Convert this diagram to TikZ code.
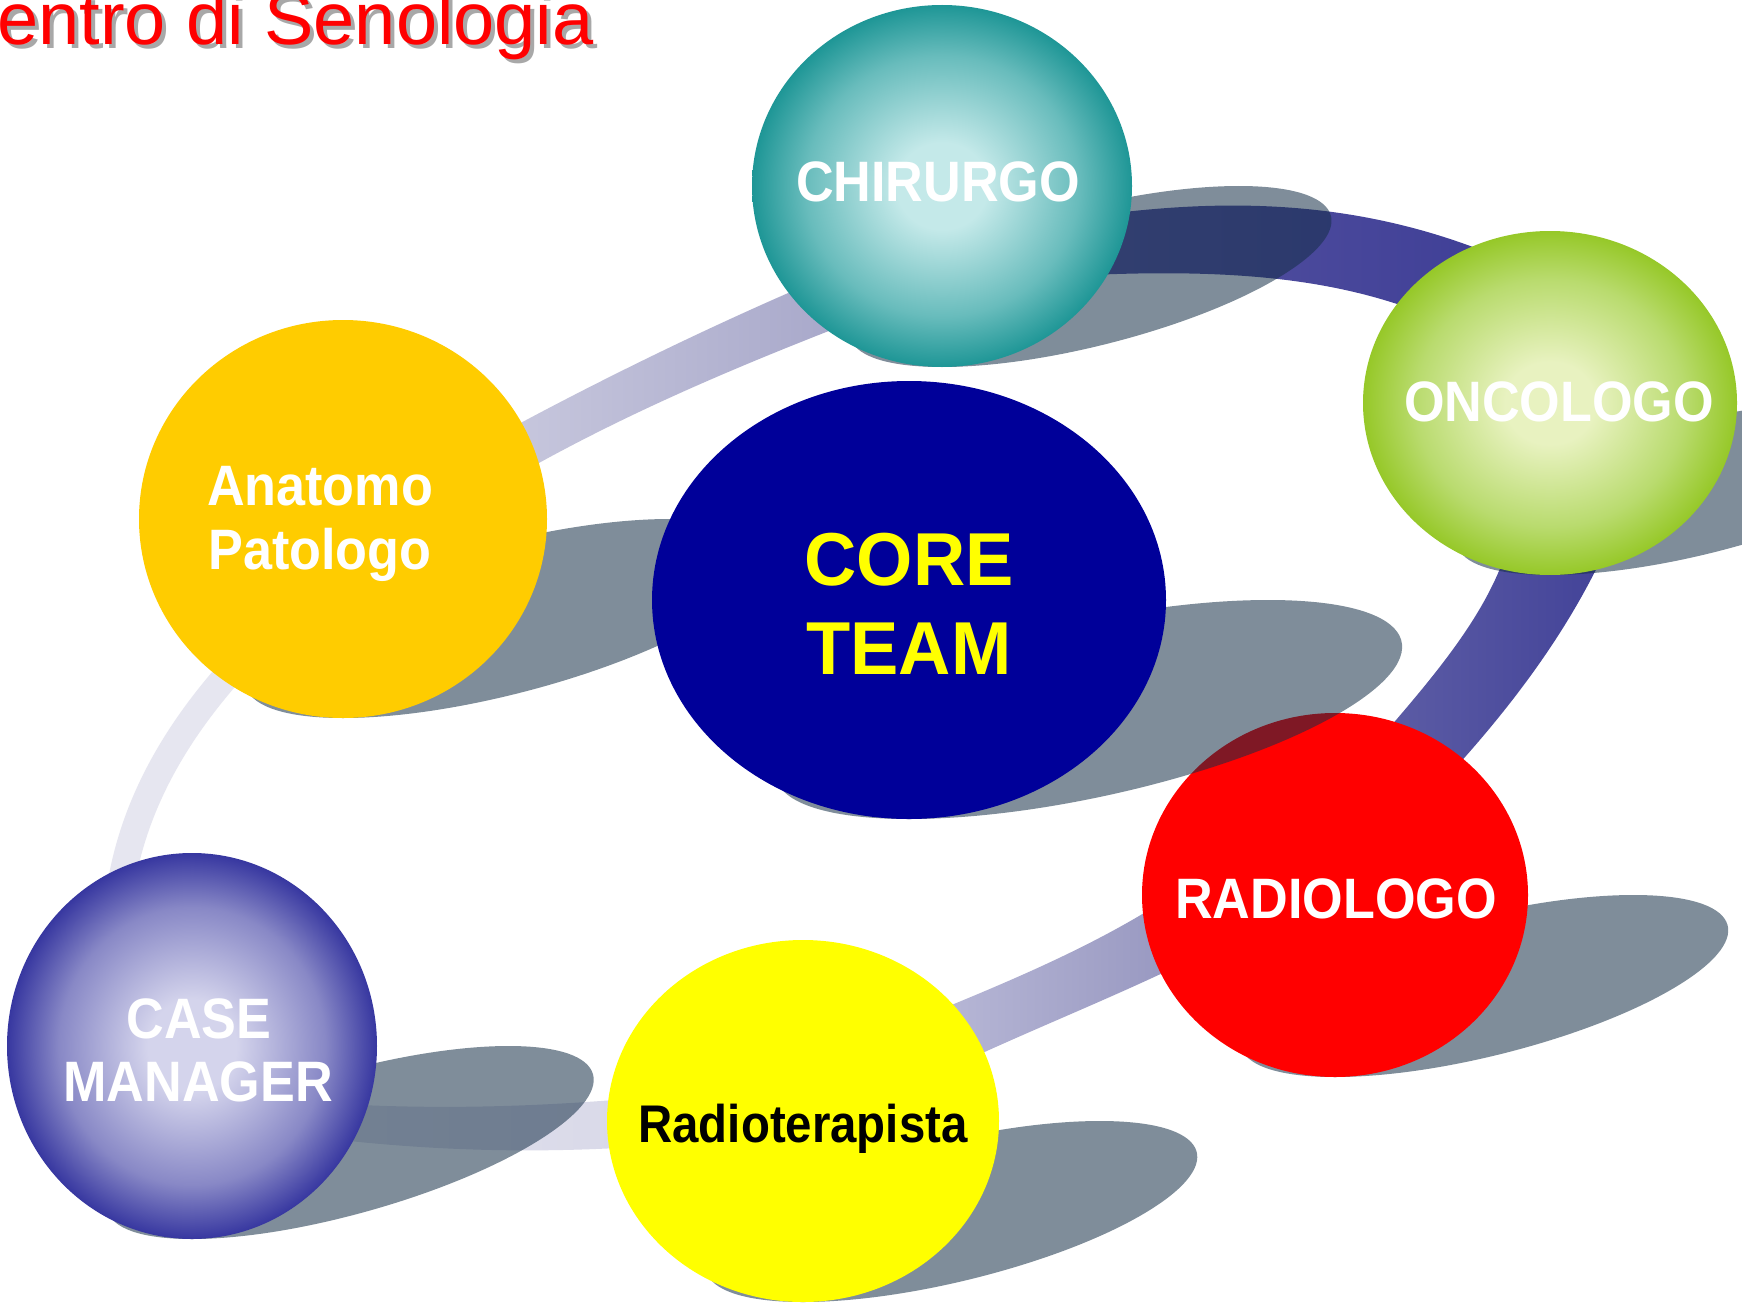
\documentclass[tikz,border=0pt]{standalone}
\usepackage{fontspec}
\setmainfont{Liberation Sans}
\usepackage{graphicx}
\usetikzlibrary{shapes.geometric}

\definecolor{shadowcol}{RGB}{20,46,70}
\definecolor{anatcol}{RGB}{255,204,0}
\definecolor{corecol}{RGB}{0,0,153}
\definecolor{radicol}{RGB}{255,0,0}
\definecolor{rtercol}{RGB}{255,255,0}
\definecolor{tealhi}{RGB}{196,233,233}
\definecolor{tealmid}{RGB}{104,188,188}
\definecolor{tealedge}{RGB}{30,150,150}
\definecolor{greenhi}{RGB}{232,242,192}
\definecolor{greenmid}{RGB}{185,219,110}
\definecolor{greenedge}{RGB}{150,200,40}
\definecolor{bluehi}{RGB}{212,212,236}
\definecolor{bluemid}{RGB}{136,136,198}
\definecolor{blueedge}{RGB}{55,55,160}
\definecolor{ribA}{RGB}{230,230,240}
\definecolor{ribBl}{RGB}{202,202,223}
\definecolor{ribBr}{RGB}{165,165,200}
\definecolor{ribCl}{RGB}{86,83,161}
\definecolor{ribCr}{RGB}{62,62,150}
\definecolor{ribDl}{RGB}{94,94,166}
\definecolor{ribDr}{RGB}{66,66,152}
\definecolor{ribEl}{RGB}{186,186,216}
\definecolor{ribEr}{RGB}{148,148,190}
\definecolor{ribFl}{RGB}{226,226,237}
\definecolor{ribFr}{RGB}{216,216,232}
\definecolor{titleshadow}{RGB}{168,168,168}

\pgfdeclareradialshading{tealball}{\pgfpoint{0bp}{0bp}}{color(0bp)=(tealhi); color(6bp)=(tealhi); color(18bp)=(tealmid); color(25bp)=(tealedge); color(50bp)=(tealedge)}
\pgfdeclareradialshading{greenball}{\pgfpoint{0bp}{0bp}}{color(0bp)=(greenhi); color(6bp)=(greenhi); color(18bp)=(greenmid); color(25bp)=(greenedge); color(50bp)=(greenedge)}
\pgfdeclareradialshading{blueball}{\pgfpoint{0bp}{0bp}}{color(0bp)=(bluehi); color(6bp)=(bluehi); color(18bp)=(bluemid); color(25bp)=(blueedge); color(50bp)=(blueedge)}

\tikzset{
  ball/.style={ellipse, draw=none, inner sep=0pt},
  shadowfill/.style={fill=shadowcol, fill opacity=0.54},
  lbl/.style={anchor=base, inner sep=0pt, text=white, font=\bfseries\fontsize{57}{60}\selectfont},
  corelbl/.style={anchor=base, inner sep=0pt, text=rtercol, font=\bfseries\fontsize{75}{80}\selectfont},
  rterlbl/.style={anchor=base, inner sep=0pt, text=black, font=\bfseries\fontsize{53}{58}\selectfont},
}
\newcommand{\narrowtxt}[2]{\scalebox{#1}[1]{#2}}
% text with a soft grey drop shadow, in one box
\newcommand{\dropshadowed}[1]{\makebox[0pt][l]{\hspace{4pt}\raisebox{-4pt}{\textcolor{titleshadow}{#1}}}#1}
% perspective shadow of an ellipse: centre (#1,#2), radii #3,#4
\newcommand{\ballshadow}[4]{%
  \begin{scope}[shift={(#1,#2+#4)}, cm={1,0,0.82,0.5,(0,0)}]
    \fill[shadowfill] (0,-#4) ellipse [x radius=#3, y radius=#4];
  \end{scope}}

\begin{document}
\begin{tikzpicture}[x=1pt,y=-1pt]
\useasboundingbox (0,0) rectangle (1742,1308);
\fill[white] (0,0) rectangle (1742,1308);
\begin{scope}
\clip (0,0) rectangle (1742,1308);

% ---- ribbon ----
\draw[line width=27pt, ribA] (118,905) .. controls (130,800) and (185,715) .. (262,638);
\shade[left color=ribBl, right color=ribBr]
  (480,445) .. controls (580,390) and (700,330) .. (830,275) -- (870,315)
  .. controls (740,365) and (620,415) .. (500,485) -- cycle;
\shade[left color=ribCl, right color=ribCr]
  (1100,215) .. controls (1250,195) and (1380,205) .. (1510,262) -- (1440,320)
  .. controls (1350,282) and (1250,268) .. (1090,275) -- cycle;
\shade[left color=ribDl, right color=ribDr]
  (1510,540) .. controls (1490,610) and (1440,670) .. (1370,750) -- (1435,790)
  .. controls (1510,710) and (1570,630) .. (1610,540) -- cycle;
\shade[left color=ribEl, right color=ribEr]
  (920,1018) .. controls (1000,985) and (1100,945) .. (1180,890) -- (1200,955)
  .. controls (1120,995) and (1030,1030) .. (950,1068) -- cycle;
\shade[left color=ribFl, right color=ribFr]
  (340,1104) .. controls (450,1110) and (550,1106) .. (650,1097) -- (650,1146)
  .. controls (550,1153) and (450,1152) .. (340,1140) -- cycle;

% ---- balls with shadows ----
\ballshadow{192}{1046}{185}{193}
\node[ball, shade, shading=blueball, minimum width=370pt, minimum height=386pt] (case) at (192,1046) {};

\ballshadow{343}{519}{204}{199}
\node[ball, fill=anatcol, minimum width=408pt, minimum height=398pt] (anat) at (343,519) {};

\ballshadow{803}{1121}{196}{181}
\node[ball, fill=rtercol, minimum width=392pt, minimum height=362pt] (rter) at (803,1121) {};

\ballshadow{1335}{895}{193}{182}
\node[ball, fill=radicol, minimum width=386pt, minimum height=364pt] (radi) at (1335,895) {};

\ballshadow{909}{600}{257}{219}
\node[ball, fill=corecol, minimum width=514pt, minimum height=438pt] (core) at (909,600) {};

\ballshadow{942}{186}{190}{181}
\node[ball, shade, shading=tealball, minimum width=380pt, minimum height=362pt] (chir) at (942,186) {};

\ballshadow{1550}{403}{187}{172}
\node[ball, shade, shading=greenball, minimum width=374pt, minimum height=344pt] (onco) at (1550,403) {};

% ---- labels ----
\node[lbl] (tchir) at (938,202) {\narrowtxt{0.915}{CHIRURGO}};
\node[lbl] (tonco) at (1559,421) {\narrowtxt{0.915}{ONCOLOGO}};
\node[lbl] (tradi) at (1336,918) {\narrowtxt{0.915}{RADIOLOGO}};
\node[lbl] (tcase1) at (199,1038) {\narrowtxt{0.915}{CASE}};
\node[lbl] (tcase2) at (198,1101) {\narrowtxt{0.915}{MANAGER}};
\node[lbl] (tanat1) at (320,505) {\narrowtxt{0.915}{Anatomo}};
\node[lbl] (tanat2) at (320,569) {\narrowtxt{0.915}{Patologo}};
\node[corelbl] (tcore1) at (909,585) {\narrowtxt{0.965}{CORE}};
\node[corelbl] (tcore2) at (909,674) {\narrowtxt{0.965}{TEAM}};
\node[rterlbl] (trter) at (803,1142) {\narrowtxt{0.894}{Radioterapista}};

% ---- title ----
\node[anchor=base west, inner sep=0pt, text=radicol, font=\fontsize{74}{80}\selectfont] (title) at (-3,45) {\dropshadowed{entro di Senologia}};
\end{scope}
\end{tikzpicture}
\end{document}
